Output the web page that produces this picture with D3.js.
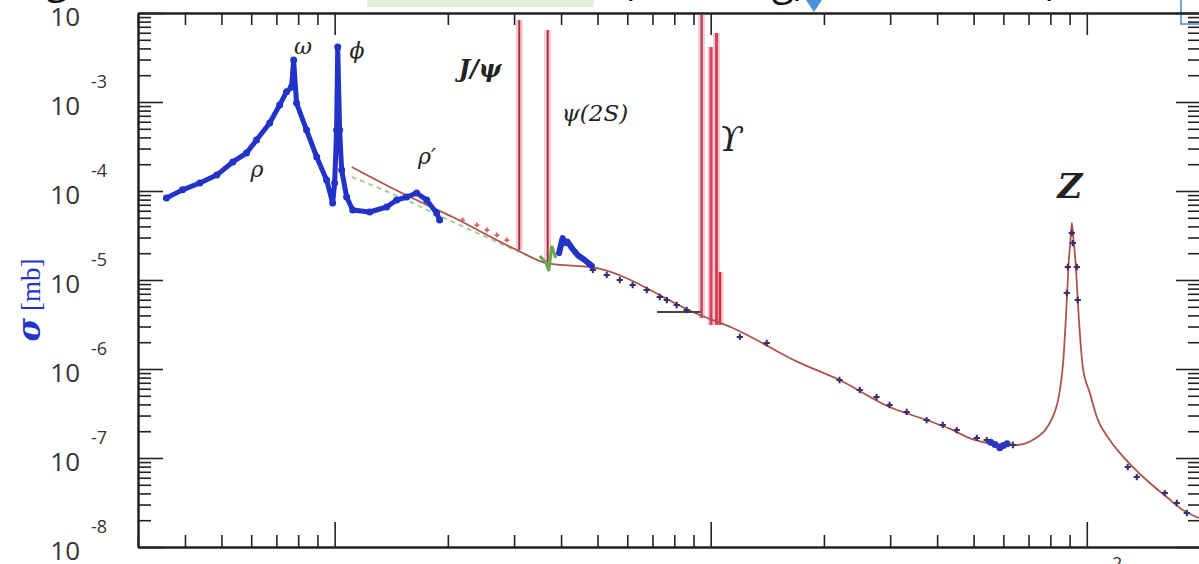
<!DOCTYPE html>
<html lang="en">
<head>
<meta charset="utf-8">
<title>e+e- to hadrons cross section</title>
<script src="https://cdn.jsdelivr.net/npm/d3@7"></script>
<style>
  body { margin: 0; background: #fff; }
  .axis path, .axis line { stroke: #222; }
  .axis path { stroke-width: 2; }
  .axis line { stroke-width: 1.6; }
  .ylab { font-family: "Open Sans", sans-serif; fill: #333; }
  .greek { font-family: "DejaVu Serif", "Liberation Serif", serif; font-style: italic; fill: #222; }
</style>
</head>
<body>
<script>
var w = 1199, h = 564;

// ---- data (sqrt(s) in GeV, sigma in mb) ----
// blue low energy data: rho, omega, phi, rho'
var lowE = [0.357, 0.394, 0.438, 0.486, 0.536, 0.583, 0.620, 0.672, 0.714, 0.745, 0.768, 0.778,
            0.792, 0.842, 0.896, 0.952, 0.988, 1.000, 1.012, 1.019, 1.031, 1.044, 1.076, 1.117,
            1.239, 1.375, 1.462, 1.554, 1.652, 1.757, 1.867, 1.902];
var lowSigma = [8.34e-5, 1.03e-4, 1.23e-4, 1.51e-4, 2.12e-4, 2.67e-4, 3.74e-4, 5.81e-4, 9.25e-4, 1.30e-3, 1.47e-3, 2.96e-3,
                9.74e-4, 4.84e-4, 2.41e-4, 1.33e-4, 7.33e-5, 1.23e-4, 4.84e-4, 4.15e-3, 4.84e-4, 1.72e-4, 8.56e-5, 6.12e-5,
                5.81e-5, 6.61e-5, 7.92e-5, 8.56e-5, 9.49e-5, 7.92e-5, 5.66e-5, 4.72e-5];

// blue data above charm threshold
var charmE = [3.95, 4.04, 4.10, 4.16, 4.27, 4.43, 4.62, 4.83];
var charmSigma = [2.0e-5, 2.96e-5, 2.6e-5, 2.7e-5, 2.3e-5, 1.9e-5, 1.68e-5, 1.44e-5];

// fit curve (brown/red), incl. the Z peak
var fitE = [1.11, 1.49, 2.06, 3.05, 3.66, 4.98, 9.35, 11.44, 17.25, 22.0, 29.9, 37.5, 43.0, 49.8, 56.0, 65.1, 71.8, 81.2,
            86.3, 88.5, 89.6, 90.4, 91.24, 92.35, 93.48, 94.6, 97.6, 101.9, 106.3, 115.1, 122.4, 132.6,
            147.1, 163.2, 180.0, 198.6];
var fitSigma = [1.86e-4, 9.74e-5, 5.10e-5, 2.17e-5, 1.55e-5, 1.36e-5, 4.04e-6, 2.89e-6, 1.17e-6, 7.52e-7, 3.74e-7, 2.67e-7, 2.15e-7, 1.62e-7, 1.45e-7, 1.40e-7, 1.59e-7, 2.89e-7,
                1.05e-6, 5.96e-6, 1.68e-5, 2.60e-5, 4.37e-5, 2.60e-5, 1.47e-5, 5.96e-6, 1.05e-6, 5.37e-7, 2.89e-7, 1.59e-7, 1.14e-7, 7.92e-8,
                5.24e-8, 3.64e-8, 2.60e-8, 2.12e-8];

// green dashed curve and green dip near psi(2S)
var dashE = [1.11, 1.49, 1.96, 3.10];
var dashSigma = [1.44e-4, 8.56e-5, 4.97e-5, 2.06e-5];
var greenE = [3.51, 3.64, 3.71, 3.78, 3.87];
var greenSigma = [1.86e-5, 1.59e-5, 1.26e-5, 2.41e-5, 1.77e-5];

// red points between 2 and 3 GeV
var redE = [2.19, 2.39, 2.54, 2.70, 2.87];
var redSigma = [4.72e-5, 4.15e-5, 3.65e-5, 3.20e-5, 2.81e-5];

// dark data points along the curve
var darkE = [4.86, 5.29, 5.73, 6.20, 6.76, 7.32, 7.64, 8.12, 8.63, 11.95, 14.09, 22.0, 24.9, 27.6, 29.9,
             33.2, 37.5, 41.4, 45.1, 51.0, 54.2, 63.6, 88.5, 89.0, 91.2, 91.8, 94.1, 94.6, 128.5, 135.8,
             161.2, 173.5, 184.5];
var darkSigma = [1.30e-5, 1.14e-5, 1.0e-5, 8.79e-6, 7.72e-6, 6.44e-6, 5.96e-6, 5.24e-6, 4.60e-6, 2.29e-6, 1.96e-6, 7.52e-7, 5.81e-7, 4.84e-7, 3.94e-7,
                 3.29e-7, 2.67e-7, 2.35e-7, 2.06e-7, 1.68e-7, 1.59e-7, 1.40e-7, 7.14e-6, 1.40e-5, 3.37e-5, 2.60e-5, 1.40e-5, 5.96e-6, 7.92e-8, 6.11e-8,
                 4.04e-8, 3.12e-8, 2.41e-8];

// blue blob below the Z
var blobE = [55.5, 57.0, 58.7, 60.0, 61.4];
var blobSigma = [1.50e-7, 1.42e-7, 1.30e-7, 1.38e-7, 1.45e-7];

// narrow resonances
var resNames = ["J/psi", "psi(2S)", "Y(1S)", "Y(2S)", "Y(3S)", "Y(4S)"];
var resE = [3.097, 3.686, 9.46, 10.02, 10.36, 10.58];
var resBase = [2.17e-5, 1.59e-5, 3.74e-6, 3.12e-6, 3.12e-6, 3.12e-6];
var resTop = [8.34e-3, 6.44e-3, 9.5e-3, 4.15e-3, 5.96e-3, 1.23e-5];

// short black segment below the Upsilons
var segE = [7.2, 9.4];
var segSigma = [4.37e-6, 4.37e-6];

var yExp = [-2, -3, -4, -5, -6, -7, -8];

// ---- chart ----
var svg = d3.select("body").append("svg")
  .attr("width", w)
  .attr("height", h);

var xScale = d3.scaleLog().domain([0.3, 200]).range([138, 1200]);
var yScale = d3.scaleLog().domain([1e-8, 1e-2]).range([547, 13]);

function pairs(xs, ys) { return xs.map(function(v, i) { return [v, ys[i]]; }); }

var line = d3.line()
  .x(function(d) { return xScale(d[0]); })
  .y(function(d) { return yScale(d[1]); });

// slide leftovers at the very top
svg.append("rect").attr("x", 367).attr("y", 0).attr("width", 227).attr("height", 7).attr("fill", "#e2efda");
svg.append("path").attr("d", "M806,0L822,0L814,12Z").attr("fill", "#4a90d9");
svg.append("rect").attr("x", 1181).attr("y", -2).attr("width", 30).attr("height", 26)
  .attr("fill", "none").attr("stroke", "#4a86c8").attr("stroke-width", 1.5);
[["g", 46, -7], ["(", 622, -5], ["g)", 772, -5], [")", 1046, -5]].forEach(function(t) {
  svg.append("text").attr("x", t[1]).attr("y", t[2]).attr("font-family", "Open Sans, sans-serif")
    .attr("font-size", 40).attr("fill", "#111").text(t[0]);
});

// ticks
var xMinor = [], yMinor = [];
[-1, 0, 1, 2].forEach(function(k) {
  for (var m = 2; m <= 9; m++) {
    var v = m * Math.pow(10, k);
    if (v >= 0.3 && v <= 200) xMinor.push(v);
  }
});
yExp.forEach(function(k) {
  if (k === -2) return;
  for (var m = 2; m <= 9; m++) yMinor.push(m * Math.pow(10, k));
});
var xMajor = [1, 10, 100];
var yMajor = yExp.map(function(k) { return Math.pow(10, k); });

function addAxis(axis, tr) {
  svg.append("g").attr("class", "axis").attr("transform", tr)
    .call(axis.tickSizeOuter(0).tickFormat(""));
}
addAxis(d3.axisBottom(xScale).tickValues(xMinor).tickSize(-12), "translate(0,547)");
addAxis(d3.axisBottom(xScale).tickValues(xMajor).tickSize(-25), "translate(0,547)");
addAxis(d3.axisTop(xScale).tickValues(xMinor).tickSize(-12), "translate(0,13)");
addAxis(d3.axisTop(xScale).tickValues(xMajor).tickSize(-22), "translate(0,13)");
addAxis(d3.axisLeft(yScale).tickValues(yMinor).tickSize(-13), "translate(138,0)");
addAxis(d3.axisLeft(yScale).tickValues(yMajor).tickSize(-25), "translate(138,0)");
addAxis(d3.axisRight(yScale).tickValues(yMinor).tickSize(-12), "translate(1200,0)");
addAxis(d3.axisRight(yScale).tickValues(yMajor).tickSize(-24), "translate(1200,0)");

// y tick labels: 10 with a raised exponent
yExp.forEach(function(k) {
  var ty = yScale(Math.pow(10, k));
  svg.append("text").attr("class", "ylab").attr("x", 80).attr("y", ty + 13)
    .attr("text-anchor", "end").attr("font-size", 26).text("10");
  svg.append("text").attr("class", "ylab").attr("x", 91).attr("y", ty - 14)
    .attr("font-size", 18).text(k);
});
// x label 10^2 (mostly below the picture)
svg.append("text").attr("class", "ylab").attr("x", xScale(100)).attr("y", 588)
  .attr("text-anchor", "middle").attr("font-size", 26).text("10");
svg.append("text").attr("class", "ylab").attr("x", 1112).attr("y", 570)
  .attr("font-size", 18).text("2");

// y axis title
var yt = svg.append("text").attr("transform", "translate(40,300) rotate(-90)")
  .attr("text-anchor", "middle").attr("fill", "#2233c8");
yt.append("tspan").attr("font-family", "DejaVu Serif, serif").attr("font-weight", "bold")
  .attr("font-style", "italic").attr("font-size", 32).text("σ");
yt.append("tspan").attr("font-family", "Liberation Serif, serif").attr("font-size", 27).text(" [mb]");

// green dashed
svg.append("path").datum(pairs(dashE, dashSigma)).attr("d", line.curve(d3.curveMonotoneX))
  .attr("fill", "none").attr("stroke", "#9fd49a").attr("stroke-width", 2).attr("stroke-dasharray", "5,4");

// resonances: pink halo + coloured line
var resColor = ["#a83240", "#a83240", "#b84a66", "#d0445e", "#d0445e", "#e82828"];
var resWidth = [2, 2, 2.5, 3, 3, 2.5];
resE.forEach(function(e, i) {
  svg.append("line").attr("x1", xScale(e)).attr("x2", xScale(e))
    .attr("y1", yScale(resBase[i])).attr("y2", yScale(resTop[i]))
    .attr("stroke", "#f6cdd5").attr("stroke-width", 7);
});
resE.forEach(function(e, i) {
  svg.append("line").attr("x1", xScale(e)).attr("x2", xScale(e))
    .attr("y1", yScale(resBase[i])).attr("y2", yScale(resTop[i]))
    .attr("stroke", resColor[i]).attr("stroke-width", resWidth[i]);
});

// fit curve
svg.append("path").datum(pairs(fitE, fitSigma)).attr("d", line.curve(d3.curveMonotoneX))
  .attr("fill", "none").attr("stroke", "#b0514c").attr("stroke-width", 1.8);

// green dip
svg.append("path").datum(pairs(greenE, greenSigma)).attr("d", line.curve(d3.curveLinear))
  .attr("fill", "none").attr("stroke", "#6aa84f").attr("stroke-width", 3);

// black segment
svg.append("path").datum(pairs(segE, segSigma)).attr("d", line.curve(d3.curveLinear))
  .attr("fill", "none").attr("stroke", "#444").attr("stroke-width", 2);

// blue low energy band
svg.append("path").datum(pairs(lowE, lowSigma)).attr("d", line.curve(d3.curveLinear))
  .attr("fill", "none").attr("stroke", "#2233c8").attr("stroke-width", 5)
  .attr("stroke-linejoin", "round").attr("stroke-linecap", "round");
svg.selectAll("circle.low").data(pairs(lowE, lowSigma)).enter().append("circle")
  .attr("class", "low").attr("cx", function(d) { return xScale(d[0]); })
  .attr("cy", function(d) { return yScale(d[1]); }).attr("r", 3.5).attr("fill", "#2233c8");

svg.append("path").datum(pairs(charmE, charmSigma)).attr("d", line.curve(d3.curveLinear))
  .attr("fill", "none").attr("stroke", "#2233c8").attr("stroke-width", 6)
  .attr("stroke-linejoin", "round").attr("stroke-linecap", "round");

// red points
svg.selectAll("path.red").data(pairs(redE, redSigma)).enter().append("path")
  .attr("class", "red")
  .attr("transform", function(d) { return "translate(" + xScale(d[0]) + "," + yScale(d[1]) + ")"; })
  .attr("d", d3.symbol(d3.symbolCross, 14)).attr("fill", "#d06060");

// dark points
svg.selectAll("path.dark").data(pairs(darkE, darkSigma)).enter().append("path")
  .attr("class", "dark")
  .attr("transform", function(d) { return "translate(" + xScale(d[0]) + "," + yScale(d[1]) + ")"; })
  .attr("d", d3.symbol(d3.symbolCross, 22)).attr("fill", "#3a2f6e");

// blue blob
svg.selectAll("circle.blob").data(pairs(blobE, blobSigma)).enter().append("circle")
  .attr("class", "blob").attr("cx", function(d) { return xScale(d[0]); })
  .attr("cy", function(d) { return yScale(d[1]); }).attr("r", 3.5).attr("fill", "#2a35c0");

// annotations
var notes = [
  ["ω", 303, 54, 22, "normal"],
  ["ϕ", 357, 58, 22, "normal"],
  ["ρ", 257, 177, 22, "normal"],
  ["ρ′", 427, 164, 22, "normal"],
  ["J/ψ", 480, 77, 24, "bold"],
  ["ψ(2S)", 595, 121, 23, "normal"],
  ["ϒ", 731, 151, 34, "normal"],
  ["Z", 1070, 198, 34, "bold"]
];
notes.forEach(function(n) {
  svg.append("text").attr("class", "greek").attr("x", n[1]).attr("y", n[2])
    .attr("text-anchor", "middle").attr("font-size", n[3]).attr("font-weight", n[4]).text(n[0]);
});
</script>
</body>
</html>
